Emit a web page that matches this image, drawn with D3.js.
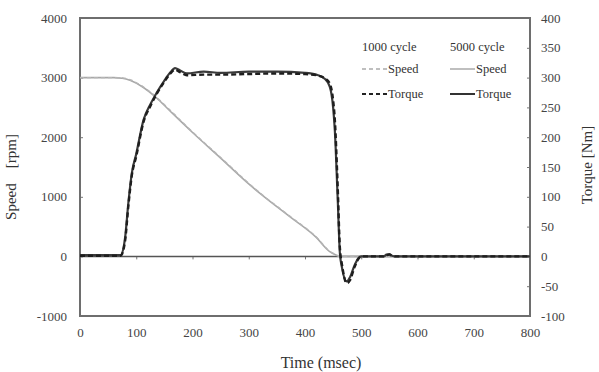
<!DOCTYPE html>
<html>
<head>
<meta charset="utf-8">
<script src="https://cdn.jsdelivr.net/npm/d3@7"></script>
<style>
  body { margin: 0; background: #fff; }
  svg { font-family: "Liberation Serif", "DejaVu Serif", serif; }
</style>
</head>
<body>
<div class="canvas"></div>
<script>
// Data
const speedTime = [0, 60, 75, 90, 110, 136, 160, 201, 250, 302, 320, 373, 420, 444, 455, 462, 480, 800];
const speed5000 = [3000, 3000, 2990, 2950, 2850, 2660, 2440, 2070, 1650, 1200, 1056, 666, 318, 80, 25, 0, 0, 0];
const speed1000 = [3000, 3000, 2995, 2960, 2860, 2670, 2455, 2080, 1660, 1210, 1065, 675, 325, 85, 28, 0, 0, 0];

const torqueTime = [0, 72, 80, 86, 92, 100, 113, 125, 136, 150, 160, 169, 178, 190, 220, 250, 300, 350, 400, 420, 435, 444, 450, 453, 458, 462, 466, 474, 480, 488, 495, 500, 540, 545, 550, 555, 560, 800];
const torque5000 = [2, 2, 30, 90, 139, 172, 229, 255, 274, 295, 308, 316, 312, 307, 310, 308, 310, 310, 308, 305, 298, 285, 250, 212, 100, 6, -20, -42, -35, -15, -3, 0, 0, 3, 4, 1, 0, 0];
const torque1000 = [1, 1, 25, 85, 135, 168, 226, 252, 272, 293, 306, 313, 309, 304, 305, 305, 306, 307, 306, 304, 299, 290, 262, 230, 120, 15, -15, -45, -40, -18, -4, 0, 0, 2, 3, 1, 0, 0];

const timeTicks = [0, 100, 200, 300, 400, 500, 600, 700, 800];
const speedTicks = [-1000, 0, 1000, 2000, 3000, 4000];
const torqueTicks = [-100, -50, 0, 50, 100, 150, 200, 250, 300, 350, 400];

// Dimensions
const dims = { width: 599, height: 372, left: 80, right: 530, top: 18, bottom: 316 };
const serif = '"Liberation Serif", "DejaVu Serif", serif';

const svg = d3.select('.canvas')
    .append('svg')
    .attr('width', dims.width)
    .attr('height', dims.height);

// Scales
const x = d3.scaleLinear().domain([0, 800]).range([dims.left, dims.right]);
const ySpeed = d3.scaleLinear().domain([-1000, 4000]).range([dims.bottom, dims.top]);
const yTorque = d3.scaleLinear().domain([-100, 400]).range([dims.bottom, dims.top]);

// plain hyphen for negatives, like the original
const fmt = d => String(d);

// Axes
const styleAxis = g => {
    g.attr('font-family', serif);
    g.select('.domain').remove();
    g.selectAll('.tick line').attr('stroke', '#777');
    g.selectAll('.tick text').attr('fill', '#444').attr('font-size', 13);
};

svg.append('g')
    .attr('transform', `translate(${dims.left},0)`)
    .call(d3.axisLeft(ySpeed).tickValues(speedTicks).tickFormat(fmt).tickSize(-3).tickPadding(13))
    .call(styleAxis);

svg.append('g')
    .attr('transform', `translate(${dims.right},0)`)
    .call(d3.axisRight(yTorque).tickValues(torqueTicks).tickFormat(fmt).tickSize(-3).tickPadding(11))
    .call(styleAxis);

// ticks sit on the zero line, labels below the frame
svg.append('g')
    .attr('transform', `translate(0,${ySpeed(0)})`)
    .call(d3.axisBottom(x).tickValues(timeTicks.slice(1, -1)).tickSize(3).tickFormat(''))
    .call(styleAxis);

svg.append('g')
    .attr('transform', `translate(0,${dims.bottom})`)
    .call(d3.axisBottom(x).tickValues(timeTicks).tickFormat(fmt).tickSize(0).tickPadding(12))
    .call(styleAxis);

// Frame and zero line
svg.append('rect')
    .attr('x', dims.left)
    .attr('y', dims.top)
    .attr('width', dims.right - dims.left)
    .attr('height', dims.bottom - dims.top)
    .attr('fill', 'none')
    .attr('stroke', '#6e6e6e')
    .attr('stroke-width', 2);

svg.append('line')
    .attr('x1', dims.left).attr('x2', dims.right)
    .attr('y1', ySpeed(0)).attr('y2', ySpeed(0))
    .attr('stroke', '#555')
    .attr('stroke-width', 1.5);

// Lines
const lineGen = (times, yScale) => d3.line()
    .x((d, i) => x(times[i]))
    .y(d => yScale(d))
    .curve(d3.curveMonotoneX);

const series = [
    { values: speed5000, times: speedTime, scale: ySpeed, color: '#a8a8a8', width: 1.6, dash: null },
    { values: speed1000, times: speedTime, scale: ySpeed, color: '#b5b5b5', width: 1.4, dash: '4,3' },
    { values: torque5000, times: torqueTime, scale: yTorque, color: '#3a3a3a', width: 2.2, dash: null },
    { values: torque1000, times: torqueTime, scale: yTorque, color: '#1e1e1e', width: 2.4, dash: '5,3' }
];

series.forEach(s => {
    svg.append('path')
        .attr('d', lineGen(s.times, s.scale)(s.values))
        .attr('fill', 'none')
        .attr('stroke', s.color)
        .attr('stroke-width', s.width)
        .attr('stroke-dasharray', s.dash);
});

// Legend
const legend = svg.append('g').attr('font-size', 12.5).attr('fill', '#333');

const legendCols = [
    { x: 362, title: '1000 cycle', dash: '4,3', speedColor: '#aaa', torqueColor: '#222' },
    { x: 450, title: '5000 cycle', dash: null, speedColor: '#aaa', torqueColor: '#333' }
];

legendCols.forEach(c => {
    legend.append('text').attr('x', c.x).attr('y', 51).text(c.title);
    [['Speed', 73, c.speedColor, 1.5], ['Torque', 98, c.torqueColor, 2]].forEach(([label, y, color, w]) => {
        legend.append('line')
            .attr('x1', c.x).attr('x2', c.x + 25)
            .attr('y1', y - 4).attr('y2', y - 4)
            .attr('stroke', color)
            .attr('stroke-width', w)
            .attr('stroke-dasharray', c.dash);
        legend.append('text').attr('x', c.x + 26).attr('y', y).text(label);
    });
});

// Axis titles
svg.append('text')
    .attr('transform', 'translate(16,177) rotate(-90)')
    .attr('text-anchor', 'middle')
    .attr('font-size', 15)
    .attr('fill', '#333')
    .style('white-space', 'pre')
    .text('Speed    [rpm]');

svg.append('text')
    .attr('transform', 'translate(592,165) rotate(-90)')
    .attr('text-anchor', 'middle')
    .attr('font-size', 15)
    .attr('fill', '#333')
    .text('Torque [Nm]');

svg.append('text')
    .attr('x', 321)
    .attr('y', 368)
    .attr('text-anchor', 'middle')
    .attr('font-size', 16)
    .attr('fill', '#333')
    .text('Time (msec)');
</script>
</body>
</html>
